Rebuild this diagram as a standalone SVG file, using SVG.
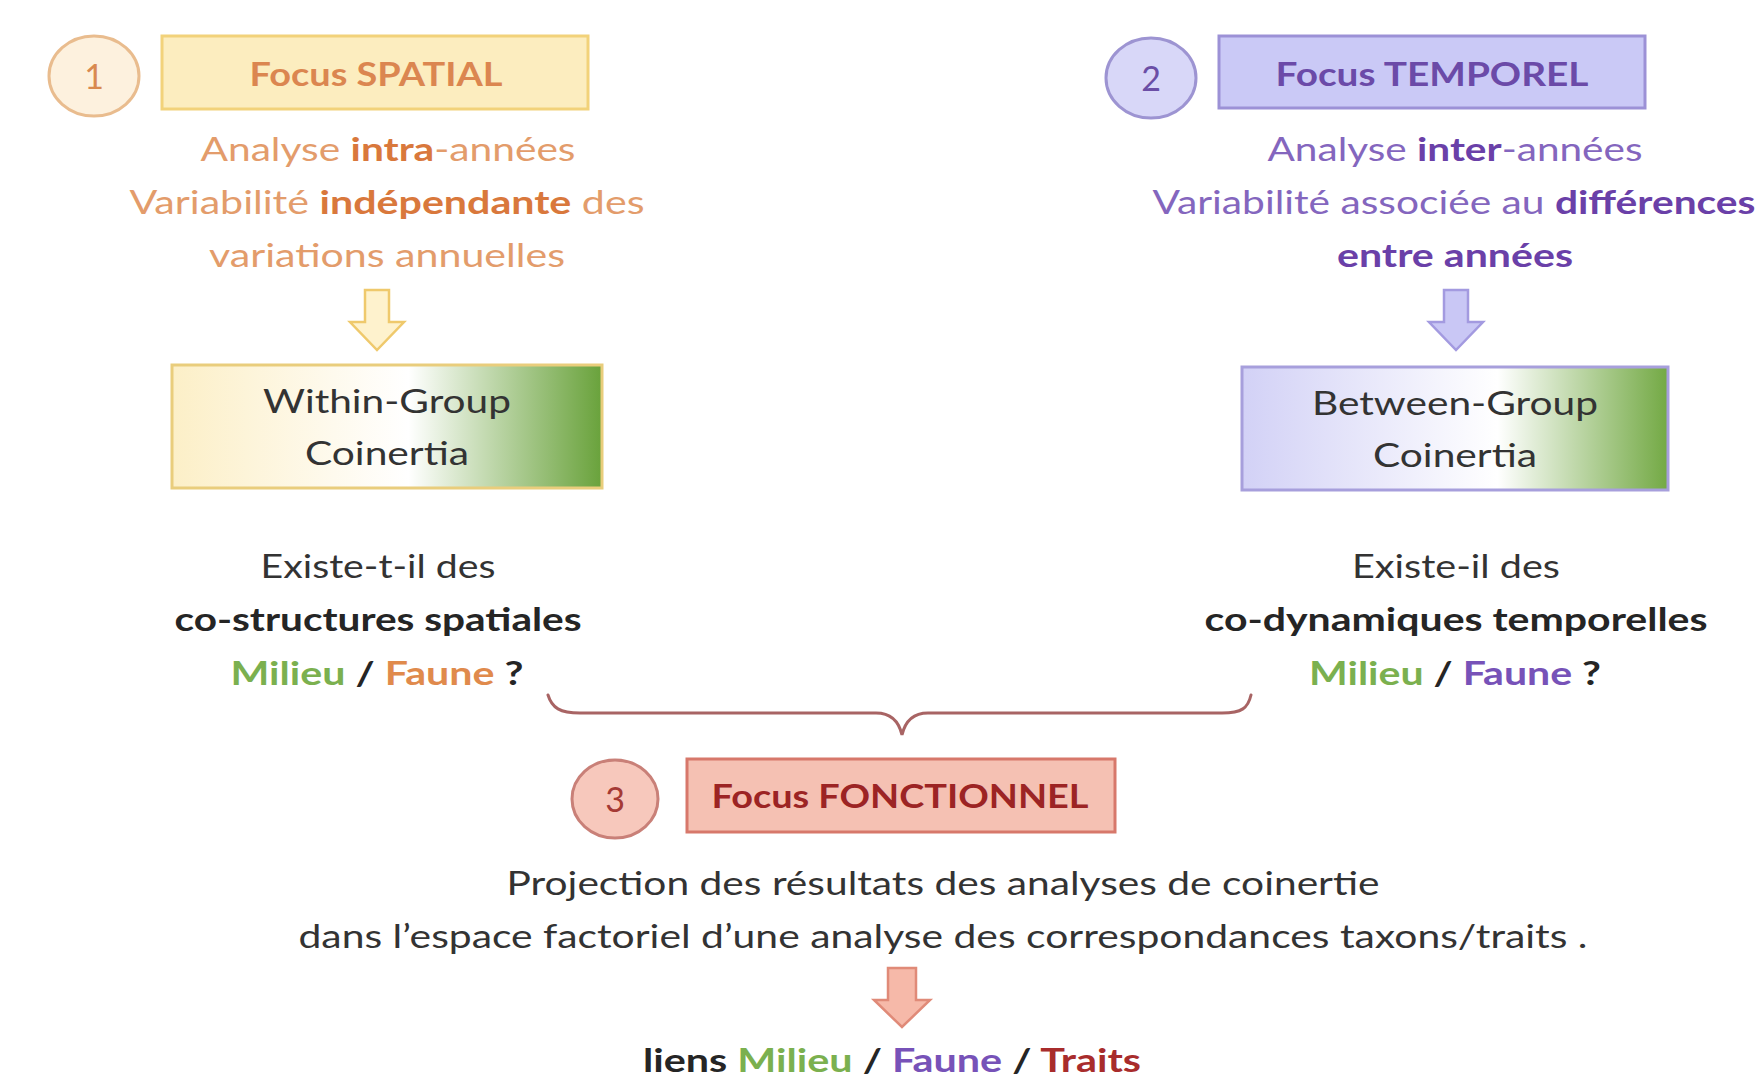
<svg xmlns="http://www.w3.org/2000/svg" width="1762" height="1080" viewBox="0 0 1762 1080">
<defs>
<style>
text{font-family:Lato,"Open Sans","Liberation Sans",sans-serif;font-size:32px;text-anchor:middle}
.b{font-weight:700}
.dark{fill:#333333}
.darkb{fill:#252525;font-weight:700}
.or{fill:#E39C6B}
.orb{fill:#D9783C;font-weight:700}
.pu{fill:#8466BE}
.pub{fill:#6A40A8;font-weight:700}
.gr{fill:#7BB04F}
.fo{fill:#E08A4C}
.fp{fill:#7752B8}
.tr{fill:#A82C2C}
.num{font-size:34px}
.brace{fill:none;stroke:#A86464;stroke-width:3;stroke-linecap:round}
</style>
<linearGradient id="gWithin" x1="0" y1="0" x2="1" y2="0">
<stop offset="0" stop-color="#FCEFC7"/>
<stop offset="0.55" stop-color="#FFFFFF"/>
<stop offset="1" stop-color="#69A23B"/>
</linearGradient>
<linearGradient id="gBetween" x1="0" y1="0" x2="1" y2="0">
<stop offset="0" stop-color="#D2D1F6"/>
<stop offset="0.6" stop-color="#FFFFFF"/>
<stop offset="1" stop-color="#73A944"/>
</linearGradient>
</defs>
<rect width="1762" height="1080" fill="#FFFFFF"/>

<g id="connectors">
<polygon points="365,290 389,290 389,322 404,322 377,350 350,322 365,322" fill="#FEF2CD" stroke="#EFC96C" stroke-width="2.5"/>
<polygon points="1444,290 1468,290 1468,322 1483,322 1456,350 1429,322 1444,322" fill="#C9C7F5" stroke="#A39AE0" stroke-width="2.5"/>
<polygon points="888,968 916,968 916,1000 930,1000 902,1027 874,1000 888,1000" fill="#F6B9A9" stroke="#E08A78" stroke-width="2.5"/>
<path class="brace" d="M548,695 C552,708 560,713 580,713 L876,713 C892,713 899,722 902,735 C905,722 912,713 928,713 L1222,713 C1242,713 1248,708 1251,695"/>
</g>

<g id="num1">
<ellipse cx="94" cy="76" rx="45" ry="40" fill="#FDF1DE" stroke="#E9BC8E" stroke-width="3"/>
<text x="94" y="89" class="num" fill="#D98A50">1</text>
</g>
<g id="focus-spatial">
<rect x="162" y="36" width="426" height="73" fill="#FCEDBF" stroke="#F2D27A" stroke-width="3"/>
<text x="376" y="86" class="b" fill="#DB8650" textLength="253" lengthAdjust="spacingAndGlyphs">Focus SPATIAL</text>
</g>
<g id="spatial-desc">
<text x="388" y="161" textLength="375" lengthAdjust="spacingAndGlyphs"><tspan class="or">Analyse </tspan><tspan class="orb">intra</tspan><tspan class="or">-années</tspan></text>
<text x="387" y="214" textLength="515" lengthAdjust="spacingAndGlyphs"><tspan class="or">Variabilité </tspan><tspan class="orb">indépendante</tspan><tspan class="or"> des</tspan></text>
<text x="387" y="267" class="or" textLength="356" lengthAdjust="spacingAndGlyphs">variations annuelles</text>
</g>
<g id="within">
<rect x="172" y="365" width="430" height="123" fill="url(#gWithin)" stroke="#E9CD7C" stroke-width="3"/>
<text x="387" y="413" class="dark" textLength="248" lengthAdjust="spacingAndGlyphs">Within-Group</text>
<text x="387" y="465" class="dark" textLength="164" lengthAdjust="spacingAndGlyphs">Coinertia</text>
</g>
<g id="spatial-question">
<text x="378" y="578" class="dark" textLength="235" lengthAdjust="spacingAndGlyphs">Existe-t-il des</text>
<text x="378" y="631" class="darkb" textLength="407" lengthAdjust="spacingAndGlyphs">co-structures spatiales</text>
<text x="377" y="685" class="b" textLength="293" lengthAdjust="spacingAndGlyphs"><tspan class="gr">Milieu</tspan><tspan fill="#252525"> / </tspan><tspan class="fo">Faune</tspan><tspan fill="#252525"> ?</tspan></text>
</g>

<g id="num2">
<ellipse cx="1151" cy="78" rx="45" ry="40" fill="#D8D7F8" stroke="#9D94D2" stroke-width="3"/>
<text x="1151" y="91" class="num" fill="#6B4EA6">2</text>
</g>
<g id="focus-temporel">
<rect x="1219" y="36" width="426" height="72" fill="#CAC9F6" stroke="#9C91D6" stroke-width="3"/>
<text x="1432" y="86" class="b" fill="#6B4AA8" textLength="313" lengthAdjust="spacingAndGlyphs">Focus TEMPOREL</text>
</g>
<g id="temporel-desc">
<text x="1455" y="161" textLength="375" lengthAdjust="spacingAndGlyphs"><tspan class="pu">Analyse </tspan><tspan class="pub">inter</tspan><tspan class="pu">-années</tspan></text>
<text x="1454" y="214" textLength="603" lengthAdjust="spacingAndGlyphs"><tspan class="pu">Variabilité associée au </tspan><tspan class="pub">différences</tspan></text>
<text x="1455" y="267" class="pub" textLength="236" lengthAdjust="spacingAndGlyphs">entre années</text>
</g>
<g id="between">
<rect x="1242" y="367" width="426" height="123" fill="url(#gBetween)" stroke="#A79FDC" stroke-width="3"/>
<text x="1455" y="415" class="dark" textLength="286" lengthAdjust="spacingAndGlyphs">Between-Group</text>
<text x="1455" y="467" class="dark" textLength="164" lengthAdjust="spacingAndGlyphs">Coinertia</text>
</g>
<g id="temporel-question">
<text x="1456" y="578" class="dark" textLength="208" lengthAdjust="spacingAndGlyphs">Existe-il des</text>
<text x="1456" y="631" class="darkb" textLength="503" lengthAdjust="spacingAndGlyphs">co-dynamiques temporelles</text>
<text x="1455" y="685" class="b" textLength="292" lengthAdjust="spacingAndGlyphs"><tspan class="gr">Milieu</tspan><tspan fill="#252525"> / </tspan><tspan class="fp">Faune</tspan><tspan fill="#252525"> ?</tspan></text>
</g>

<g id="num3">
<ellipse cx="615" cy="799" rx="43" ry="39" fill="#F7C8BC" stroke="#C98078" stroke-width="3"/>
<text x="615" y="812" class="num" fill="#A53A35">3</text>
</g>
<g id="focus-fonctionnel">
<rect x="687" y="759" width="428" height="73" fill="#F5C1B3" stroke="#D7786B" stroke-width="3"/>
<text x="900" y="808" class="b" fill="#9C2424" textLength="377" lengthAdjust="spacingAndGlyphs">Focus FONCTIONNEL</text>
</g>
<g id="fonctionnel-desc">
<text x="943" y="895" class="dark" textLength="873" lengthAdjust="spacingAndGlyphs">Projection des résultats des analyses de coinertie</text>
<text x="943" y="948" class="dark" textLength="1289" lengthAdjust="spacingAndGlyphs">dans l’espace factoriel d’une analyse des correspondances taxons/traits .</text>
</g>
<g id="liens">
<text x="892" y="1072" class="b" textLength="498" lengthAdjust="spacingAndGlyphs"><tspan fill="#252525">liens </tspan><tspan class="gr">Milieu</tspan><tspan fill="#252525"> / </tspan><tspan class="fp">Faune</tspan><tspan fill="#252525"> / </tspan><tspan class="tr">Traits</tspan></text>
</g>
</svg>
